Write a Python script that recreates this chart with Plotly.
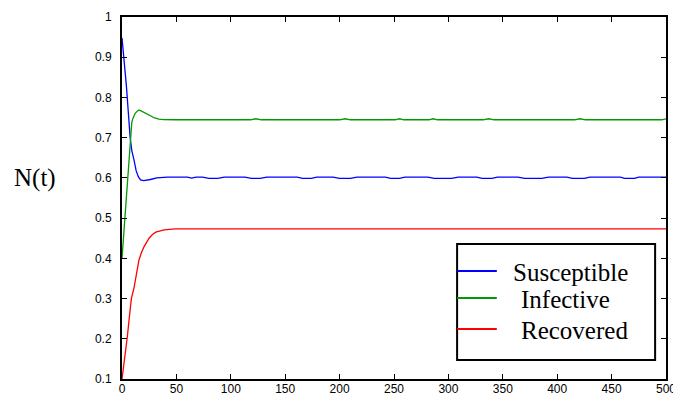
import plotly.graph_objects as go

# Susceptible fraction over time
t_s = [0, 4, 7.5, 9, 11, 13, 15, 17, 20, 23, 26, 32, 42, 60, 64, 68, 74, 80, 88, 94,
       113, 119, 127, 133, 161, 166, 174, 179, 194, 200, 210, 216, 242, 247, 255, 260,
       281, 287, 303, 309, 326, 331, 340, 345, 364, 370, 386, 392, 409, 414, 425, 430,
       458, 462, 471, 475, 500]
s_vals = [0.948, 0.83, 0.70, 0.668, 0.645, 0.618, 0.603, 0.595, 0.593, 0.594, 0.596, 0.600,
          0.602, 0.602, 0.5995, 0.602, 0.602, 0.599, 0.599, 0.602,
          0.602, 0.599, 0.599, 0.602, 0.602, 0.599, 0.599, 0.602, 0.602, 0.599, 0.599, 0.602,
          0.602, 0.599, 0.599, 0.602, 0.602, 0.599, 0.599, 0.602, 0.602, 0.599, 0.599, 0.602,
          0.602, 0.599, 0.599, 0.602, 0.602, 0.599, 0.599, 0.602, 0.602, 0.599, 0.599, 0.602,
          0.602]

# Infective fraction over time
t_i = [0, 2, 4, 6, 8, 9, 10, 12, 14, 15.6, 18, 22, 26, 30, 34, 38, 50,
       118, 123, 128, 200, 205, 210, 251, 255, 259, 282, 286, 290, 332, 337, 342,
       416, 421, 426, 496, 500]
i_vals = [0.40, 0.48, 0.56, 0.64, 0.72, 0.738, 0.748, 0.760, 0.766, 0.769, 0.766, 0.760,
          0.754, 0.749, 0.746, 0.745, 0.7445,
          0.7445, 0.747, 0.7445, 0.7445, 0.747, 0.7445, 0.7445, 0.747, 0.7445,
          0.7445, 0.747, 0.7445, 0.7445, 0.747, 0.7445, 0.7445, 0.747, 0.7445,
          0.7445, 0.747]

# Recovered fraction over time
t_r = [0, 2.5, 4.9, 7, 8.6, 11, 13, 15.6, 18, 20.3, 24.9, 28, 31, 38.7, 49,
       99, 103, 113, 117, 150, 153, 157, 160, 194, 198, 207, 211, 231, 235, 240, 243,
       278, 282, 291, 295, 314, 318, 327, 331, 360, 364, 373, 377, 446, 449, 455, 458, 500]
r_vals = [0.10, 0.15, 0.205, 0.26, 0.30, 0.326, 0.36, 0.396, 0.415, 0.429, 0.45, 0.459,
          0.465, 0.471, 0.4733,
          0.4733, 0.4718, 0.4718, 0.4733, 0.4733, 0.4718, 0.4718, 0.4733,
          0.4733, 0.4718, 0.4718, 0.4733, 0.4733, 0.4718, 0.4718, 0.4733,
          0.4733, 0.4718, 0.4718, 0.4733, 0.4733, 0.4718, 0.4718, 0.4733,
          0.4733, 0.4718, 0.4718, 0.4733, 0.4733, 0.4718, 0.4718, 0.4733, 0.4733]

series_names = ["Susceptible", "Infective", "Recovered"]
series_colors = ["#0000ff", "#009900", "#ff0000"]
series_data = [(t_s, s_vals), (t_i, i_vals), (t_r, r_vals)]

x_ticks = [0, 50, 100, 150, 200, 250, 300, 350, 400, 450, 500]
y_ticks = [0.1, 0.2, 0.3, 0.4, 0.5, 0.6, 0.7, 0.8, 0.9, 1]

SERIF = "Liberation Serif, Times New Roman, serif"

fig = go.Figure()
for name, (t, v), color in zip(series_names, series_data, series_colors):
    fig.add_trace(go.Scatter(x=t, y=v, mode="lines", name=name,
                             line=dict(color=color, width=1.3)))

axis_common = dict(
    showline=True, linecolor="black", linewidth=2, mirror="ticks",
    ticks="inside", ticklen=5, tickcolor="black", tickwidth=1,
    showgrid=False, zeroline=False, automargin=False,
    ticklabeloverflow="allow",
    tickfont=dict(family="Liberation Sans, Arial", size=12, color="black"),
)

# Boxed key in the lower right of the plotting area (paper coordinates)
box = dict(x0=0.616, x1=0.980, y0=0.0525, y1=0.373)
key_rows_y = [0.298, 0.224, 0.138]
key_line_x = (0.616, 0.689)
key_text_x = [0.715, 0.729, 0.729]

shapes = [dict(type="rect", xref="paper", yref="paper", **box,
               line=dict(color="black", width=2), fillcolor="white", layer="above")]
annotations = []
for name, color, ry, tx in zip(series_names, series_colors, key_rows_y, key_text_x):
    shapes.append(dict(type="line", xref="paper", yref="paper",
                       x0=key_line_x[0], x1=key_line_x[1], y0=ry, y1=ry,
                       line=dict(color=color, width=2), layer="above"))
    annotations.append(dict(text=name, xref="paper", yref="paper", x=tx, y=ry - 0.004,
                            xanchor="left", yanchor="middle", showarrow=False,
                            font=dict(family=SERIF, size=25, color="black")))

annotations.append(dict(
    text="N(t)", xref="paper", yref="paper", x=-0.16, y=0.556,
    xanchor="center", yanchor="middle", showarrow=False,
    font=dict(family=SERIF, size=25, color="black"),
))

fig.update_layout(
    width=673, height=396,
    margin=dict(l=122, r=7, t=17, b=17),
    paper_bgcolor="white", plot_bgcolor="white",
    showlegend=False,
    xaxis=dict(range=[0, 500], tickvals=x_ticks, ticktext=[str(v) for v in x_ticks],
               ticklabelstandoff=-2, **axis_common),
    yaxis=dict(range=[0.1, 1], tickvals=y_ticks, ticktext=[f"{v:g}" for v in y_ticks],
               ticklabelstandoff=6, **axis_common),
    shapes=shapes,
    annotations=annotations,
)

fig.write_html("out.html")
